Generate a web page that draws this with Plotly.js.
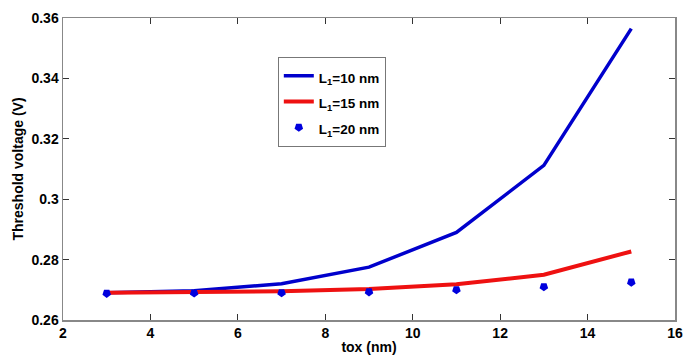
<!DOCTYPE html>
<html><head><meta charset="utf-8">
<script src="https://cdn.plot.ly/plotly-3.0.1.min.js"></script>
<style>html,body{margin:0;padding:0;background:#fff}#c{width:693px;height:359px}</style>
</head><body><div id="c"></div>
<script>
const tox = [3, 5, 7, 9, 11, 13, 15];
const vt10 = [0.2690, 0.2697, 0.2720, 0.2775, 0.2890, 0.3112, 0.3565];
const vt15 = [0.2690, 0.2691, 0.2695, 0.2703, 0.2718, 0.2750, 0.2827];
const vt20 = [0.2688, 0.2689, 0.2690, 0.2693, 0.2700, 0.2710, 0.2725];
const names = ['L<sub>1</sub>=10 nm', 'L<sub>1</sub>=15 nm', 'L<sub>1</sub>=20 nm'];
const xTicks = [2, 4, 6, 8, 10, 12, 14, 16];
const yTicks = [0.26, 0.28, 0.3, 0.32, 0.34, 0.36];
const yTickText = ['0.26', '0.28', '0.3', '0.32', '0.34', '0.36'];

const wrap = s => '<span style="font-size:13.5px">' + s + '</span>';
const traces = [
  {x: tox, y: vt10, name: wrap(names[0]), mode: 'lines', line: {color: '#0000cc', width: 3.5}},
  {x: tox, y: vt15, name: wrap(names[1]), mode: 'lines', line: {color: '#ee1111', width: 4}},
  {x: tox, y: vt20, name: wrap(names[2]), mode: 'markers', marker: {color: '#0000dd', symbol: 'pentagon', angle: 180, size: 9}}
];
const F = 'Liberation Sans, Arial, sans-serif';
const axisCommon = {
  showgrid: false, zeroline: false, showline: true, linecolor: '#888', linewidth: 1.5,
  mirror: 'ticks', ticks: 'inside', ticklen: 6, tickcolor: '#333', tickwidth: 1,
  tickfont: {family: F, size: 14, color: '#000', weight: 'bold'}
};
const layout = {
  width: 693, height: 359,
  margin: {l: 63, r: 18, t: 18, b: 39},
  paper_bgcolor: '#fff', plot_bgcolor: '#fff',
  font: {family: F, size: 13, color: '#000'},
  showlegend: true,
  legend: {x: 0.351, y: 0.871, xanchor: 'left', yanchor: 'top', bgcolor: '#fff', bordercolor: '#777', borderwidth: 1,
    font: {family: F, size: 17.5, color: '#000', weight: 'bold'}, tracegroupgap: 0, itemwidth: 30},
  xaxis: Object.assign({}, axisCommon, {range: [2, 16], tickvals: xTicks,
    title: {text: 'tox (nm)', standoff: 2, font: {family: F, size: 14, color: '#000', weight: 'bold'}}}),
  yaxis: Object.assign({}, axisCommon, {range: [0.26, 0.36], tickvals: yTicks, ticktext: yTickText,
    title: {text: 'Threshold voltage (V)', standoff: 4, font: {family: F, size: 14, color: '#000', weight: 'bold'}}})
};
Plotly.newPlot('c', traces, layout, {displayModeBar: false, staticPlot: true});
</script></body></html>
